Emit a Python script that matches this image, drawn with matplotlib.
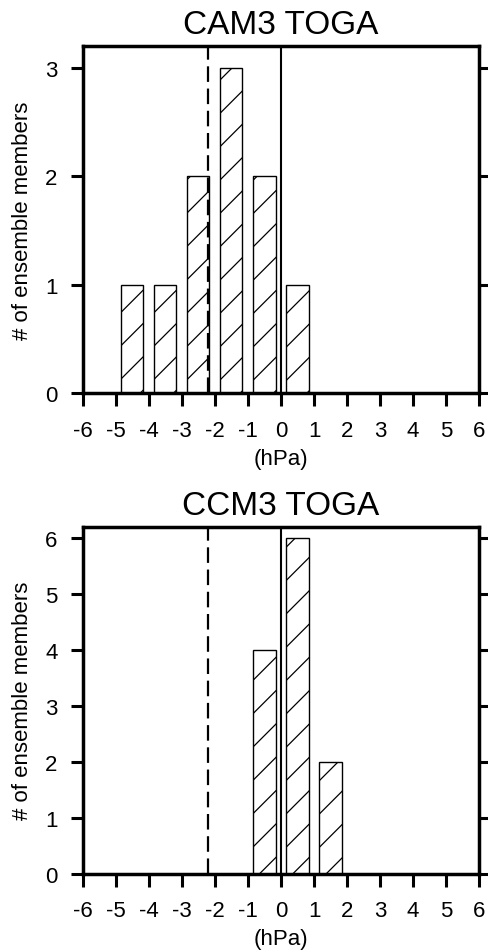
import matplotlib
matplotlib.use("Agg")
import matplotlib.pyplot as plt
import numpy as np

plt.rcParams['font.family'] = ['Liberation Sans', 'DejaVu Sans']
plt.rcParams['hatch.linewidth'] = 0.9

# bin centres (hPa) and number of ensemble members in each bin
cam3_bins = [-4.5, -3.5, -2.5, -1.5, -0.5, 0.5]
cam3_counts = [1, 1, 2, 3, 2, 1]
ccm3_bins = [-0.5, 0.5, 1.5]
ccm3_counts = [4, 6, 2]
obs_value = -2.22   # dashed reference line
xticks = np.arange(-6, 7)

panels = [
    ("CAM3 TOGA", cam3_bins, cam3_counts, [0.1691, 0.5863, 0.811, 0.3644], 3.2),
    ("CCM3 TOGA", ccm3_bins, ccm3_counts, [0.1691, 0.0822, 0.811, 0.3641], 6.2),
]

fig = plt.figure(figsize=(4.89, 9.53), dpi=100)

for title, bins, counts, pos, ytop in panels:
    ax = fig.add_axes(pos)
    ax.bar(bins, counts, width=0.67, facecolor='white', edgecolor='black',
           linewidth=1.0, hatch='/', zorder=2)
    ax.axvline(0, color='black', lw=1.5, zorder=3)
    ax.axvline(obs_value, color='black', lw=1.6, ls=(0, (7, 3)), zorder=3)
    ax.set_xlim(-6, 6)
    ax.set_ylim(0, ytop)
    ax.set_xticks(xticks)
    ax.set_xticklabels([str(t) for t in xticks])
    ax.set_yticks(np.arange(0, int(ytop) + 1))
    for s in ax.spines.values():
        s.set_linewidth(2.5)
    ax.tick_params(axis='x', direction='out', length=9, width=2.2, labelsize=16, pad=10)
    ax.tick_params(axis='y', direction='out', length=9, width=2.2, labelsize=16, pad=9,
                   right=True)
    ax.set_title(title, fontsize=24, pad=9)
    ax.set_xlabel("(hPa)", fontsize=16, labelpad=5)
    ax.set_ylabel("# of ensemble members", fontsize=16, labelpad=9)

plt.savefig("out.png", dpi=100)
